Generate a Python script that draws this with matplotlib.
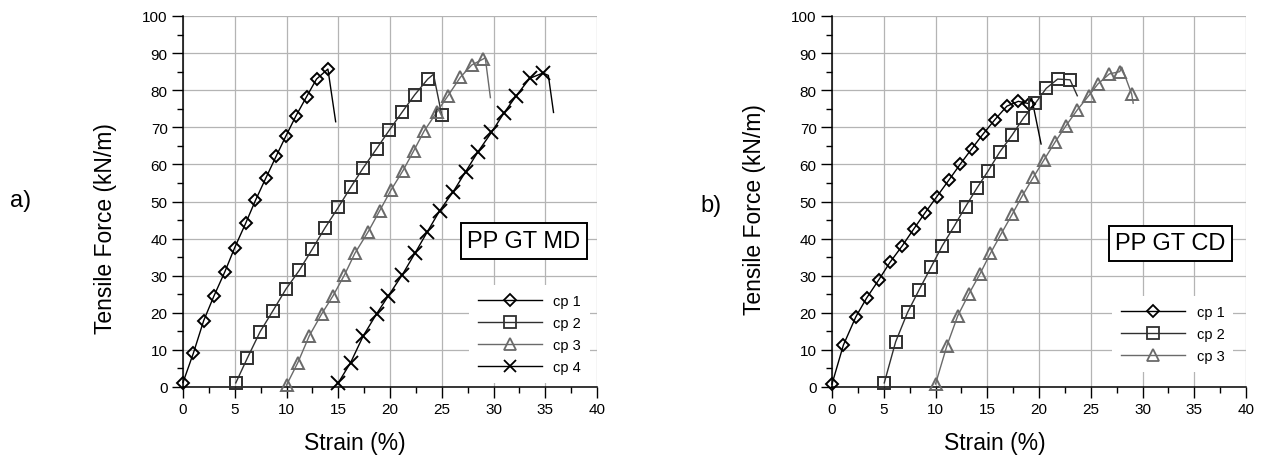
import matplotlib
matplotlib.use("Agg")
from matplotlib import pyplot as plt
from matplotlib.ticker import MultipleLocator

plt.rcParams['font.family'] = ['Liberation Sans', 'DejaVu Sans']

# ---- data (strain %, tensile force kN/m) ----
# markers are the symbols; *_tail points are the unmarked line past the peak
md_cp1_x = [0, 1.0, 2.0, 3.0, 4.05, 5.0, 6.05, 7.0, 8.0, 9.0, 9.95, 10.9, 11.95, 12.9, 14.0]
md_cp1_y = [1.2, 9.1, 17.9, 24.6, 31.1, 37.6, 44.1, 50.3, 56.3, 62.2, 67.7, 73.0, 78.3, 83.0, 85.7]
md_cp1_tail_x = [14.75]
md_cp1_tail_y = [71.5]

md_cp2_x = [5.1, 6.2, 7.45, 8.7, 9.95, 11.25, 12.5, 13.7, 15.0, 16.2, 17.4, 18.7, 19.95, 21.2, 22.4, 23.65, 25.0]
md_cp2_y = [1.1, 7.7, 14.9, 20.6, 26.4, 31.5, 37.2, 42.8, 48.4, 53.8, 59.0, 64.2, 69.3, 74.2, 78.8, 83.0, 73.3]
md_cp2_tail_x = [24.2]
md_cp2_tail_y = [84.3]

md_cp3_x = [10.0, 11.1, 12.2, 13.4, 14.5, 15.6, 16.6, 17.9, 19.0, 20.1, 21.25, 22.3, 23.3, 24.5, 25.6, 26.8, 27.9, 29.0]
md_cp3_y = [0.5, 6.6, 13.8, 19.7, 24.6, 30.2, 36.0, 41.9, 47.5, 53.1, 58.3, 63.7, 69.0, 74.0, 78.5, 83.5, 86.8, 88.4]
md_cp3_tail_x = [29.2, 29.7]
md_cp3_tail_y = [88.8, 78.0]

md_cp4_x = [15.0, 16.2, 17.4, 18.7, 19.85, 21.2, 22.4, 23.6, 24.8, 26.1, 27.3, 28.5, 29.8, 31.0, 32.2, 33.5, 34.75]
md_cp4_y = [1.1, 6.6, 13.7, 19.7, 24.6, 30.3, 36.0, 41.8, 47.5, 52.6, 58.0, 63.4, 68.6, 73.8, 78.5, 83.2, 84.6]
md_cp4_tail_x = [35.3, 35.8]
md_cp4_tail_y = [84.0, 74.0]

cd_cp1_x = [0, 1.1, 2.3, 3.35, 4.5, 5.6, 6.8, 7.9, 9.0, 10.1, 11.3, 12.4, 13.5, 14.6, 15.75, 16.9, 18.0, 19.0]
cd_cp1_y = [0.8, 11.3, 18.9, 24.0, 28.8, 33.6, 38.1, 42.6, 47.0, 51.2, 55.8, 60.1, 64.2, 68.2, 72.1, 75.7, 77.0, 76.4]
cd_cp1_tail_x = [19.3, 20.2]
cd_cp1_tail_y = [77.8, 65.5]

cd_cp2_x = [5.05, 6.15, 7.3, 8.4, 9.57, 10.66, 11.8, 12.9, 14.0, 15.1, 16.2, 17.4, 18.5, 19.65, 20.7, 21.8, 23.0]
cd_cp2_y = [1.1, 12.2, 20.1, 26.1, 32.3, 38.1, 43.3, 48.6, 53.6, 58.3, 63.3, 67.9, 72.5, 76.5, 80.5, 83.0, 82.8]
cd_cp2_tail_x = [23.7]
cd_cp2_tail_y = [78.5]

cd_cp3_x = [10.0, 11.1, 12.15, 13.25, 14.3, 15.3, 16.35, 17.4, 18.4, 19.45, 20.5, 21.55, 22.6, 23.7, 24.8, 25.7, 26.8, 27.8, 28.95]
cd_cp3_y = [0.8, 11.1, 19.2, 25.2, 30.5, 36.0, 41.3, 46.5, 51.6, 56.5, 61.3, 66.0, 70.4, 74.7, 78.5, 81.7, 84.4, 85.0, 79.0]
cd_cp3_tail_x = [28.0, 29.1]
cd_cp3_tail_y = [86.2, 76.5]

labels = ['cp 1', 'cp 2', 'cp 3', 'cp 4']
markers = ['D', 's', '^', 'x']
msizes = [6.6, 9.0, 9.0, 9.5]
colors = ['#000000', '#303030', '#6a6a6a', '#000000']

md_series = [(md_cp1_x, md_cp1_y, md_cp1_tail_x, md_cp1_tail_y),
             (md_cp2_x, md_cp2_y, md_cp2_tail_x, md_cp2_tail_y),
             (md_cp3_x, md_cp3_y, md_cp3_tail_x, md_cp3_tail_y),
             (md_cp4_x, md_cp4_y, md_cp4_tail_x, md_cp4_tail_y)]
cd_series = [(cd_cp1_x, cd_cp1_y, cd_cp1_tail_x, cd_cp1_tail_y),
             (cd_cp2_x, cd_cp2_y, cd_cp2_tail_x, cd_cp2_tail_y),
             (cd_cp3_x, cd_cp3_y, cd_cp3_tail_x, cd_cp3_tail_y)]


def drawPanel(ax, series, boxText, boxXY, ylabelY, xlabelX, legAnchor):
    for i, (mx, my, tx, ty) in enumerate(series):
        # line through markers plus the drop after failure, ordered by strain
        pts = sorted(zip(mx + tx, my + ty))
        lx = [p[0] for p in pts]
        ly = [p[1] for p in pts]
        ax.plot(lx, ly, color=colors[i], lw=1.0, clip_on=False, zorder=3)
        ax.plot(mx, my, linestyle='none', marker=markers[i], ms=msizes[i],
                mfc='none', mec=colors[i], mew=1.4, clip_on=False, zorder=4)
    # legend proxies: line + marker
    handles = []
    for i in range(len(series)):
        h, = ax.plot([], [], color=colors[i], lw=1.0, marker=markers[i],
                     ms=msizes[i] * 0.9, mfc='none', mec=colors[i], mew=1.3)
        handles.append(h)
    leg = ax.legend(handles, labels[:len(series)], loc='lower right',
                    bbox_to_anchor=legAnchor, borderaxespad=0.0,
                    fontsize=10.5, handlelength=4.4, handletextpad=0.8,
                    labelspacing=0.56, frameon=True, fancybox=False,
                    borderpad=0.6)
    leg.get_frame().set_facecolor('white')
    leg.get_frame().set_edgecolor('none')
    leg.get_frame().set_alpha(1)
    leg.set_zorder(5)

    ax.text(boxXY[0], boxXY[1], boxText, fontsize=17, ha='center', va='center',
            bbox=dict(boxstyle='square,pad=0.28', fc='white', ec='black', lw=1.4),
            zorder=6)

    ax.set_xlim(0, 40)
    ax.set_ylim(0, 100)
    ax.xaxis.set_major_locator(MultipleLocator(5))
    ax.xaxis.set_minor_locator(MultipleLocator(2.5))
    ax.yaxis.set_major_locator(MultipleLocator(10))
    ax.yaxis.set_minor_locator(MultipleLocator(5))
    ax.grid(True, which='major', color='#b4b4b4', lw=0.9)
    ax.set_axisbelow(True)
    for s in ['top', 'right']:
        ax.spines[s].set_visible(False)
    for s in ['left', 'bottom']:
        ax.spines[s].set_linewidth(1.1)
    ax.tick_params(which='major', direction='out', length=8, width=1.0,
                   labelsize=11, pad=3)
    ax.tick_params(which='minor', direction='out', length=4.5, width=1.0)

    ax.set_xlabel('Strain (%)', fontsize=16.5)
    ax.set_ylabel('Tensile Force (kN/m)', fontsize=16.5)
    ax.xaxis.set_label_coords(xlabelX, -0.118)
    ax.yaxis.set_label_coords(-0.16, ylabelY)


fig = plt.figure(figsize=(12.62, 4.6), dpi=100)
ax1 = fig.add_axes([183 / 1262, 72 / 460, 414 / 1262, 371 / 460])
ax2 = fig.add_axes([832 / 1262, 72 / 460, 414 / 1262, 371 / 460])

drawPanel(ax1, md_series, 'PP GT MD', (32.95, 39.35), 0.431, 0.415, (0.983, 0.011))
drawPanel(ax2, cd_series, 'PP GT CD', (32.7, 38.75), 0.48, 0.394, (0.969, 0.040))

fig.text(10 / 1262, 1 - 201 / 460, 'a)', fontsize=17, va='center', ha='left')
fig.text(700 / 1262, 1 - 206 / 460, 'b)', fontsize=17, va='center', ha='left')

fig.savefig('out.png', dpi=100)
